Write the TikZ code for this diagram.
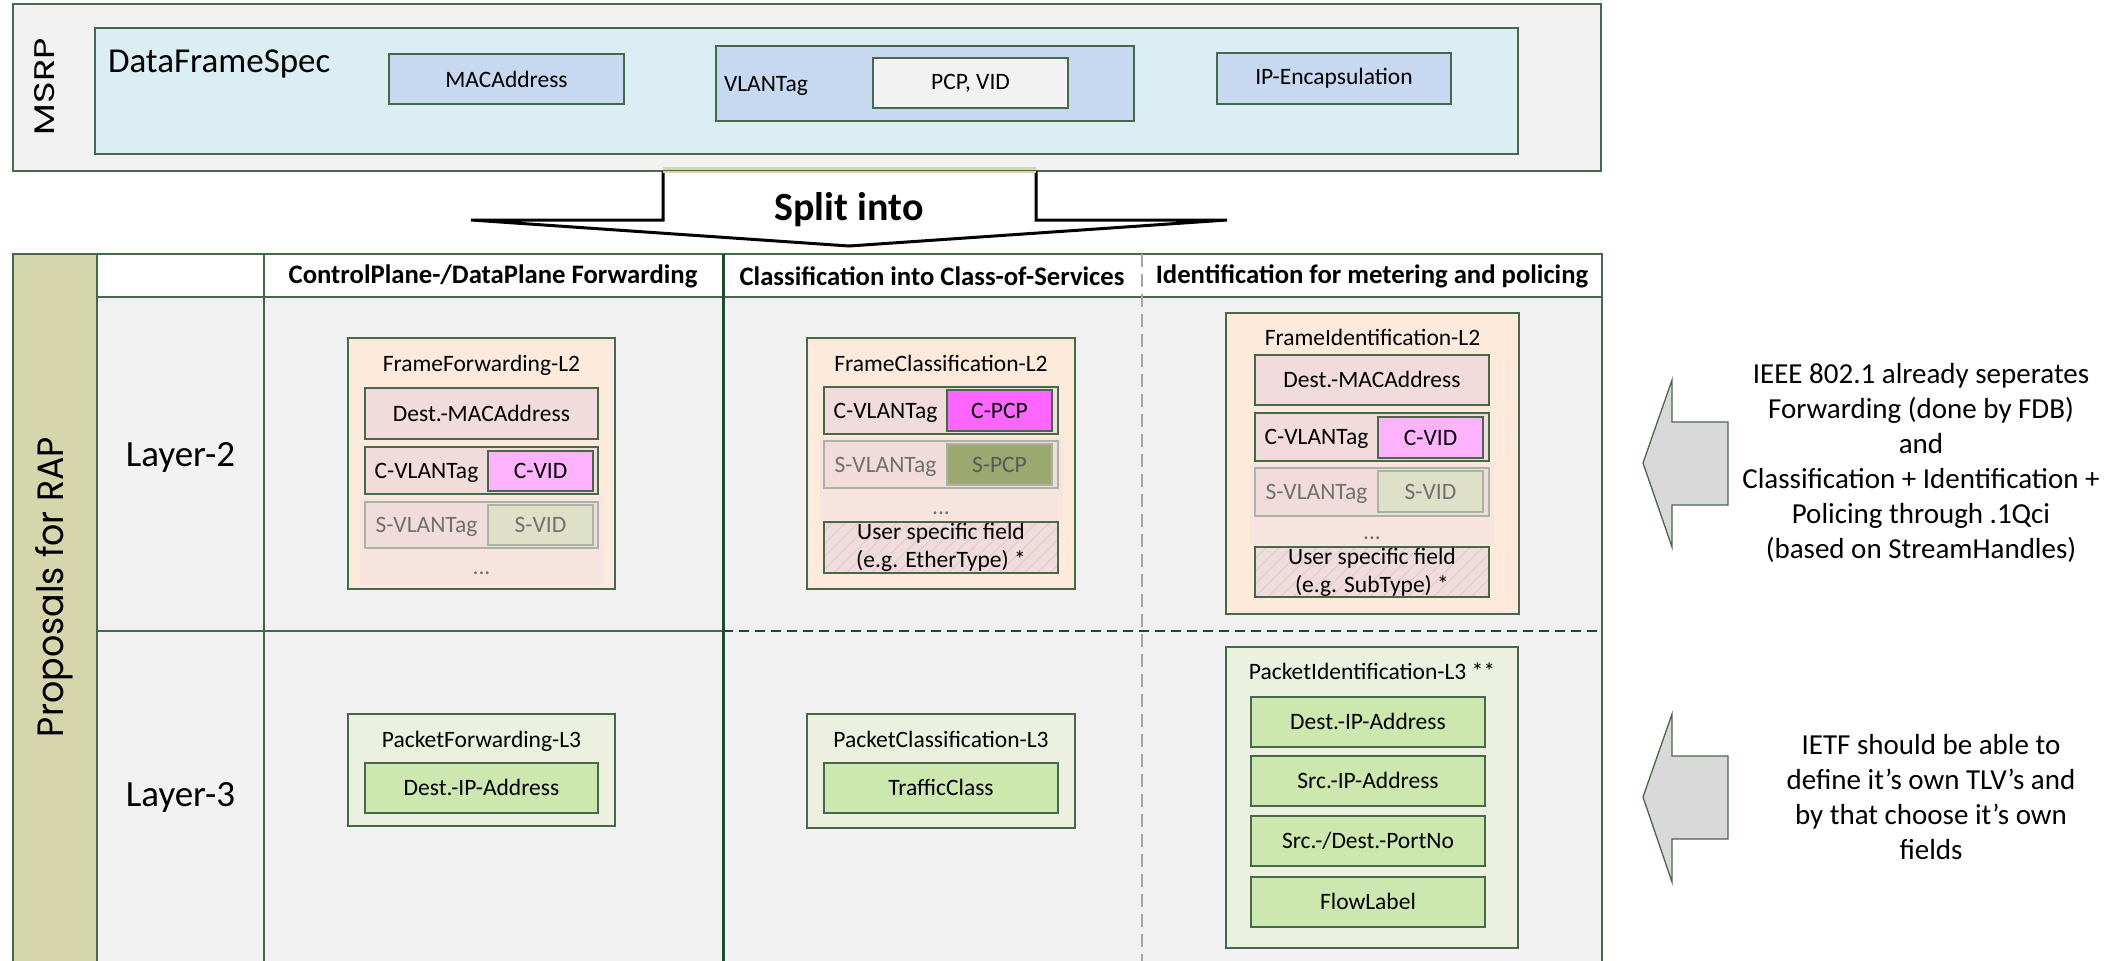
\documentclass[tikz,border=0pt]{standalone}
\usepackage{graphicx}
\usepackage{fontspec}
\setmainfont{Carlito}
\newfontfamily\geo{Poppins}
\usetikzlibrary{patterns.meta}
\definecolor{bord}{RGB}{70,105,75}
\definecolor{dkg}{RGB}{30,75,45}
\definecolor{lgray}{RGB}{242,242,242}
\definecolor{cyanbg}{RGB}{218,238,243}
\definecolor{bluef}{RGB}{198,217,241}
\definecolor{olive}{RGB}{214,214,173}
\definecolor{peach}{RGB}{253,234,218}
\definecolor{pinkf}{RGB}{242,220,219}
\definecolor{cvid}{RGB}{255,179,255}
\definecolor{cpcp}{RGB}{255,102,255}
\definecolor{svid}{RGB}{222,224,200}
\definecolor{spcp}{RGB}{155,168,112}
\definecolor{greenbg}{RGB}{235,241,222}
\definecolor{greenf}{RGB}{205,232,174}
\definecolor{arrowf}{RGB}{217,217,217}
\definecolor{fadebg}{RGB}{248,228,222}
\definecolor{fadetext}{RGB}{112,112,112}
\definecolor{fadebord}{RGB}{170,180,165}
\definecolor{hilite}{RGB}{214,214,174}
\newcommand\bx[7]{\node[#2, anchor=north west, minimum width={#5pt-#3pt}, minimum height={#6pt-#4pt}] (#1) at (#3,#4) {#7};}
\begin{document}
\begin{tikzpicture}[x=1pt,y=-1pt,
  every node/.style={inner sep=0pt, outer sep=0pt, font=\fontsize{23.5}{28}\selectfont},
  thin line/.style={draw=bord, line width=1.3pt},
  outerbox/.style={thin line, fill=lgray},
  specbox/.style={thin line, fill=cyanbg},
  bluebox/.style={thin line, fill=bluef},
  graybox/.style={thin line, fill=lgray},
  grp/.style={thin line, fill=peach},
  grpg/.style={thin line, fill=greenbg},
  one/.style={text height=15pt, text depth=0pt},
  fld/.style={thin line, fill=pinkf, one},
  fldg/.style={thin line, fill=greenf, one},
  fadefld/.style={draw=fadebord, line width=1.3pt, fill=pinkf, one, text=fadetext},
  cvidbox/.style={thin line, fill=cvid, one},
  cpcpbox/.style={thin line, fill=cpcp, one},
  svidbox/.style={draw=fadebord, line width=1.3pt, fill=svid, one, text=fadetext},
  spcpbox/.style={draw=fadebord, line width=1.3pt, fill=spcp, one, text=black!65},
  fadearea/.style={fill=fadebg},
  hatch/.style={thin line, preaction={fill=pinkf}, pattern={Lines[angle=45,distance=9pt,line width=0.9pt]}, pattern color=black!18, align=center},
  lbl/.style={one},
  hdr/.style={font=\fontsize{26.7}{31}\selectfont\bfseries},
  layer/.style={font=\fontsize{37}{44}\selectfont},
  side/.style={align=center, font=\fontsize{29}{35}\selectfont},
  bigarrow/.style={draw=bord, line width=1.3pt, fill=arrowf}
]
\useasboundingbox (0,0) rectangle (2123,961);

% ---------------- MSRP ----------------
\bx{msrpbox}{outerbox}{13}{4}{1601}{171}{}
\node[rotate=90] (msrp) at (45,86.5) {\resizebox{97pt}{20pt}{\geo MSRP}};
\bx{dfs}{specbox}{95}{28}{1518}{154}{}
\node[anchor=base west, font=\fontsize{35}{40}\selectfont] (dfslbl) at (108,72) {DataFrameSpec};
\bx{mac}{bluebox}{389}{54}{624}{104}{MACAddress}
\bx{vlan}{bluebox}{716}{46}{1134}{121}{}
\node[anchor=west, one] (vlanlbl) at (724,83.5) {VLANTag};
\bx{pcpvid}{graybox}{873}{58}{1068}{108}{PCP, VID}
\bx{ipenc}{bluebox}{1217}{53}{1451}{104}{IP-Encapsulation}

% ---------------- table ----------------
\fill[white] (97,254) rectangle (1602,297);
\fill[lgray] (97,297) rectangle (1602,961);
\fill[olive] (13,254) rectangle (97,961);
\draw[thin line] (13,965) -- (13,254) -- (1602,254) -- (1602,965);
\draw[thin line] (97,254) -- (97,965);
\draw[thin line] (264,254) -- (264,965);
\draw[thin line] (97,297) -- (1602,297);
\draw[thin line] (97,631) -- (723,631);
\draw[draw=dkg, line width=1.3pt, dash pattern=on 10pt off 6pt] (723,631) -- (1602,631);
\draw[draw=black!35, line width=1.2pt, dash pattern=on 13pt off 7pt] (1142,254) -- (1142,965);
\draw[draw=dkg, line width=3pt] (723,254) -- (723,965);

\node[rotate=90, anchor=base] (rap) at (63,587) {\resizebox{300pt}{28pt}{\geo Proposals for RAP}};
\node[hdr] (h1) at (493,276) {ControlPlane-/DataPlane Forwarding};
\node[hdr] (h2) at (932,276) {Classification into Class-of-Services};
\node[hdr] (h3) at (1372,276) {Identification for metering and policing};
\node[layer] (l2) at (180.5,457) {Layer-2};
\node[layer] (l3) at (180.5,797) {Layer-3};

% ---------------- split arrow ----------------
\draw[black, line width=3pt, fill=white, line join=miter]
  (663,171) -- (663,220) -- (471,220) -- (849,246) -- (1227,220) -- (1036,220) -- (1036,171);
\draw[hilite, line width=6pt] (663,170) -- (1036,170);
\draw[bord, line width=1.2pt] (663,170.5) -- (1036,170.5);
\node[font=\fontsize{40}{48}\selectfont\bfseries, anchor=base] (split) at (849,220) {Split into};

% ---------------- FrameForwarding-L2 ----------------
\bx{ffl2}{grp}{348}{338}{615}{589}{}
\node[lbl] (fftitle) at (481.5,364) {FrameForwarding-L2};
\bx{ffdmac}{fld}{365}{388}{598}{439}{Dest.-MACAddress}
\bx{ffc}{fld}{365}{447}{598}{494}{}
\node[lbl] (ffclbl) at (426.5,470.5) {C-VLANTag};
\bx{ffcvid}{cvidbox}{488}{451}{593}{491}{C-VID}
\bx{fffade}{fadearea}{360}{497}{603}{585}{}
\bx{ffs}{fadefld}{365}{502}{598}{548}{}
\node[lbl, text=fadetext] (ffslbl) at (426.5,525) {S-VLANTag};
\bx{ffsvid}{svidbox}{488}{505}{593}{545}{S-VID}
\node[text=fadetext] (ffdots) at (481.5,573) {...};

% ---------------- FrameClassification-L2 ----------------
\bx{fcl2}{grp}{807}{338}{1075}{589}{}
\node[lbl] (fctitle) at (941,364) {FrameClassification-L2};
\bx{fcc}{fld}{824}{387}{1058}{434}{}
\node[lbl] (fcclbl) at (885.5,410.5) {C-VLANTag};
\bx{fccpcp}{cpcpbox}{947}{390}{1052}{431}{C-PCP}
\bx{fcfade}{fadearea}{820}{437}{1063}{520}{}
\bx{fcs}{fadefld}{824}{441}{1058}{488}{}
\node[lbl, text=fadetext] (fcslbl) at (885.5,464.5) {S-VLANTag};
\bx{fcspcp}{spcpbox}{947}{444}{1052}{485}{S-PCP}
\node[text=fadetext] (fcdots) at (941,513) {...};
\bx{fcusr}{hatch}{824}{522}{1058}{573}{User specific field\\(e.g. EtherType) *}

% ---------------- FrameIdentification-L2 ----------------
\bx{fil2}{grp}{1226}{313}{1519}{614}{}
\node[lbl] (fititle) at (1372.5,338) {FrameIdentification-L2};
\bx{fidmac}{fld}{1255}{355}{1489}{405}{Dest.-MACAddress}
\bx{fic}{fld}{1255}{413}{1489}{461}{}
\node[lbl] (ficlbl) at (1316.5,437) {C-VLANTag};
\bx{ficvid}{cvidbox}{1378}{417}{1483}{458}{C-VID}
\bx{fifade}{fadearea}{1250}{464}{1494}{545}{}
\bx{fis}{fadefld}{1255}{468}{1489}{516}{}
\node[lbl, text=fadetext] (fislbl) at (1316.5,492) {S-VLANTag};
\bx{fisvid}{svidbox}{1378}{471}{1483}{512}{S-VID}
\node[text=fadetext] (fidots) at (1372,538) {...};
\bx{fiusr}{hatch}{1255}{547}{1489}{597}{User specific field\\(e.g. SubType) *}

% ---------------- Layer-3 ----------------
\bx{pfl3}{grpg}{348}{714}{615}{826}{}
\node[lbl] (pftitle) at (481.5,740) {PacketForwarding-L3};
\bx{pfdip}{fldg}{365}{763}{598}{813}{Dest.-IP-Address}

\bx{pcl3}{grpg}{807}{714}{1075}{828}{}
\node[lbl] (pctitle) at (941,740) {PacketClassification-L3};
\bx{pctc}{fldg}{824}{763}{1058}{813}{TrafficClass}

\bx{pil3}{grpg}{1226}{647}{1518}{948}{}
\node[lbl] (pititle) at (1372,672) {PacketIdentification-L3 **};
\bx{pidip}{fldg}{1251}{697}{1485}{747}{Dest.-IP-Address}
\bx{pisip}{fldg}{1251}{756}{1485}{806}{Src.-IP-Address}
\bx{piport}{fldg}{1251}{816}{1485}{866}{Src.-/Dest.-PortNo}
\bx{piflow}{fldg}{1251}{877}{1485}{927}{FlowLabel}

% ---------------- right side ----------------
\draw[bigarrow] (1643,463) -- (1672,380) -- (1672,422) -- (1728,422) -- (1728,505) -- (1672,505) -- (1672,547) -- cycle;
\draw[bigarrow] (1643,797) -- (1672,714) -- (1672,756) -- (1728,756) -- (1728,839) -- (1672,839) -- (1672,882) -- cycle;
\node[side] (ieee) at (1921,463) {IEEE 802.1 already seperates\\Forwarding (done by FDB)\\and\\Classification + Identification +\\Policing through .1Qci\\(based on StreamHandles)};
\node[side] (ietf) at (1931,797) {IETF should be able to\\define it’s own TLV’s and\\by that choose it’s own\\fields};
\end{tikzpicture}
\end{document}
